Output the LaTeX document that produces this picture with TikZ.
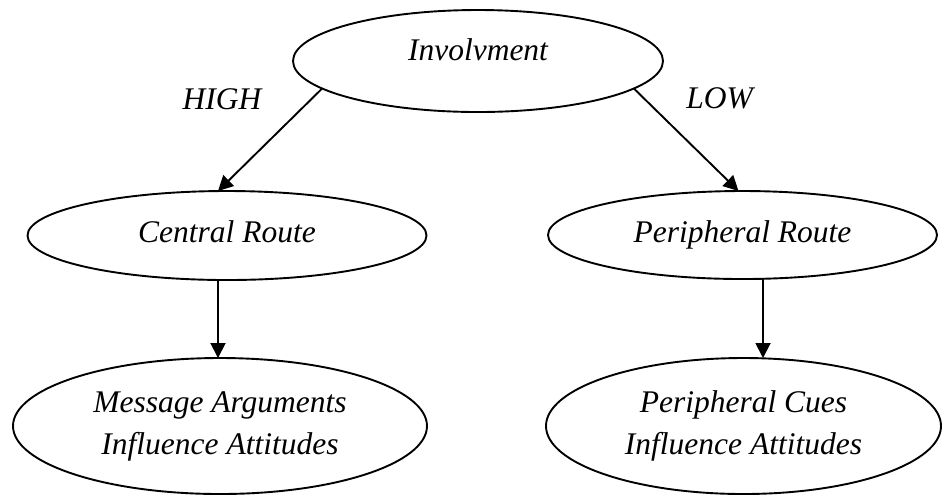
\documentclass[tikz,border=0pt]{standalone}
\usepackage{fontspec}
\setmainfont{Liberation Serif}
\usetikzlibrary{arrows.meta,shapes.geometric}

\begin{document}
\begin{tikzpicture}[x=0.5pt,y=-0.5pt,
    oval/.style={draw,ellipse,line width=0.95pt,inner sep=0pt,outer sep=0pt,
      font=\fontsize{15.75}{21}\selectfont\itshape,align=center},
    oneline/.style={text height=11pt,text depth=4pt},
    lbl/.style={font=\fontsize{15.75}{21}\selectfont\itshape,inner sep=0pt},
    link/.style={line width=0.95pt,-{Triangle[length=7.5pt,width=7.5pt]}}]
    \useasboundingbox (0,0) rectangle (942,495);

    % Ellipse Involvment
    \node[oval,oneline,text depth=12pt,minimum width=185pt,minimum height=51pt] (invol) at (478,61) {Involvment};%

    % Ellipse Central Route
    \node[oval,oneline,minimum width=199.5pt,minimum height=44.5pt] (central) at (227,235.5) {Central Route};%

    % Ellipse Peripheral Route
    \node[oval,oneline,minimum width=194.5pt,minimum height=44pt] (periph) at (742.5,235) {Peripheral Route};%

    % Ellipse Message Arguments
    \node[oval,minimum width=207pt,minimum height=68pt] (message) at (220,426) {Message Arguments\\Influence Attitudes};%

    % Ellipse Peripheral Cues
    \node[oval,minimum width=197.5pt,minimum height=68pt] (cues) at (743.5,426) {Peripheral Cues\\Influence Attitudes};%

    % Drawing arrows
    \draw[link] (invol.190) -- ([xshift=-4.5pt]central.north);%
    \draw[link] (invol.350) -- ([xshift=-2pt]periph.north);%
    \draw[link] ([xshift=-4.5pt]central.south) -- ([xshift=-4.5pt]central.south |- message.north);%
    \draw[link] ([xshift=10.25pt]periph.south) -- ([xshift=10.25pt]periph.south |- cues.north);%

    % Labels HIGH and LOW
    \node[lbl] (high) at (222,99.5) {HIGH};%
    \node[lbl] (low) at (719.5,98.5) {LOW};%
\end{tikzpicture}
\end{document}
